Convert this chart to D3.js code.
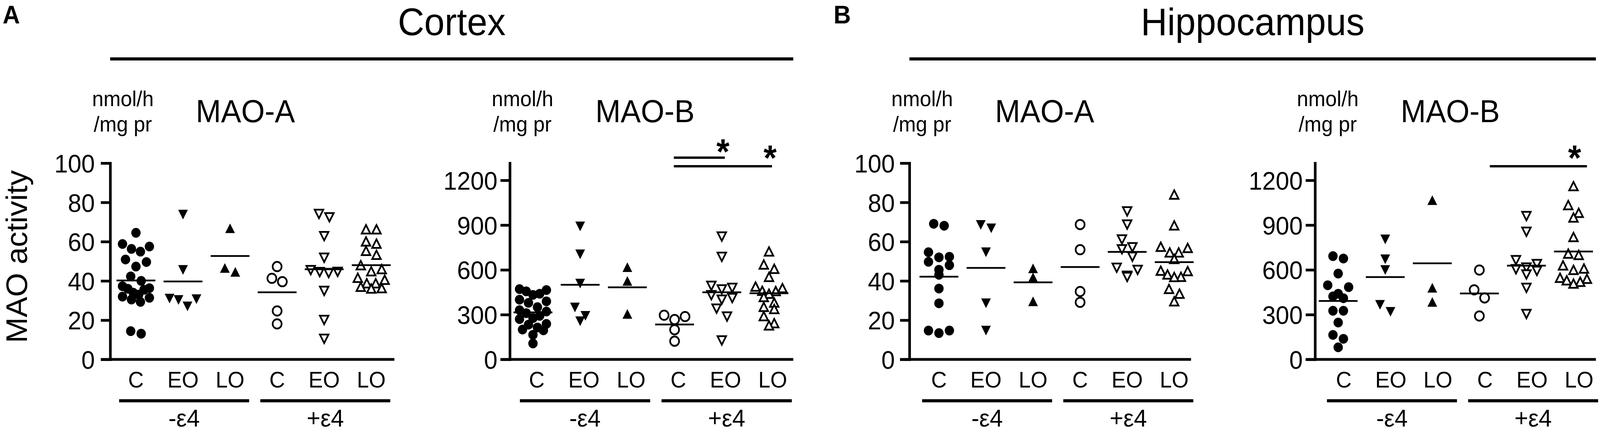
<!DOCTYPE html>
<html lang="en">
<head>
<meta charset="UTF-8">
<title>MAO activity</title>
<script src="https://d3js.org/d3.v7.min.js"></script>
<style>
  html, body { margin: 0; padding: 0; background: #fff; overflow: hidden; }
  #chart { display: block; width: 100vw; height: 100vh; }
  svg text { font-family: "Liberation Sans", Arial, Helvetica, sans-serif; fill: #000; }
</style>
</head>
<body>
<svg id="chart" viewBox="0 0 4284 1107" preserveAspectRatio="none"></svg>
<script>
// x groups: genotype (-e4 / +e4) x diagnosis (C, EO, LO)
const groups = ["-C", "-EO", "-LO", "+C", "+EO", "+LO"];
const groupLabels = ["C", "EO", "LO", "C", "EO", "LO"];
const genotypes = ["-ε4", "+ε4"];
const ticksA = [0, 20, 40, 60, 80, 100];
const ticksB = [0, 300, 600, 900, 1200];

// MAO activity, nmol/h/mg protein, one array per group (same order as groups)
const cortexMaoA = [
  [64.5, 58.8, 57.5, 56.3, 54.9, 50.9, 49.6, 47.3, 42.3, 40.0, 37.3, 36.3, 36.0, 35.5, 34.0, 33.0, 32.0, 31.4, 30.5, 29.3, 14.4, 13.1],
  [73.8, 45.6, 31.0, 30.7, 30.3, 27.0],
  [66.8, 46.6, 44.6],
  [47.3, 41.3, 39.6, 24.7, 18.1],
  [74.1, 72.4, 62.8, 51.8, 45.5, 44.6, 44.5, 44.0, 34.9, 20.1, 10.5],
  [66.3, 66.3, 60.1, 59.0, 55.3, 53.3, 48.0, 46.0, 44.9, 41.6, 40.6, 38.8, 38.8, 37.0, 36.3, 36.1]
];
const cortexMaoB = [
  [471, 465, 456, 440, 432, 400, 389, 379, 350, 330, 321, 310, 292, 277, 270, 238, 233, 214, 200, 195, 165, 107],
  [891, 704, 508, 348, 292, 256],
  [618, 526, 305],
  [296, 287, 267, 199, 122],
  [823, 687, 493, 479, 469, 430, 411, 400, 340, 287, 127],
  [723, 636, 607, 553, 488, 478, 460, 458, 440, 418, 381, 352, 338, 290, 243, 228]
];
const hippoMaoA = [
  [69.1, 68.1, 54.6, 52.3, 52.0, 49.7, 48.0, 45.7, 43.1, 36.1, 28.6, 14.7, 14.7, 13.4],
  [68.5, 66.8, 54.6, 28.6, 14.7],
  [46.4, 41.8, 29.6],
  [68.7, 55.9, 34.6, 29.1],
  [75.4, 68.7, 61.1, 57.1, 56.1, 52.3, 46.7, 45.6, 42.6, 42.0],
  [84.0, 68.3, 57.4, 56.8, 54.5, 54.5, 51.2, 45.2, 45.0, 43.3, 42.1, 42.0, 35.9, 33.5, 29.6]
];
const hippoMaoB = [
  [692, 676, 575, 497, 484, 440, 422, 410, 326, 326, 247, 164, 138, 81],
  [804, 671, 599, 366, 319],
  [1067, 480, 385],
  [599, 466, 412, 291],
  [960, 855, 665, 639, 615, 604, 593, 569, 479, 304],
  [1161, 1034, 982, 951, 820, 709, 700, 630, 609, 600, 547, 540, 530, 520, 508]
];

// significance bars (from, to), lowest first
const cortexSig = [["+C", "+LO"], ["+C", "+EO"]];
const hippoSig = [["+C", "+LO"]];

const panels = [
  {values: cortexMaoA, ticks: ticksA, yMax: 100, name: "MAO-A", axisX: 295, axisRight: 1056, cats: [364, 994], labelDx: 0, tickPad: 16},
  {values: cortexMaoB, ticks: ticksB, yMax: 1315, name: "MAO-B", axisX: 1365, axisRight: 2124, cats: [1427, 2059], labelDx: 10, tickPad: 8, sig: cortexSig, sigPad: [-2, 8]},
  {values: hippoMaoA, ticks: ticksA, yMax: 100, name: "MAO-A", axisX: 2435, axisRight: 3189, cats: [2514, 3144], labelDx: 0, tickPad: 14},
  {values: hippoMaoB, ticks: ticksB, yMax: 1315, name: "MAO-B", axisX: 3521, axisRight: 4273, cats: [3583, 4213], labelDx: 15, tickPad: 8, sig: hippoSig, sigPad: [28, 36]}
];

const regions = [
  {letter: "A", letterX: 7, title: "Cortex", first: 0, last: 1},
  {letter: "B", letterX: 2232, title: "Hippocampus", first: 2, last: 3}
];

const svg = d3.select("#chart");
const yTop = 418, yBottom = 921, tickLen = 25;

// triangles centred on their bounding box, like the plotting program
const triUp = {draw(ctx, size) {
  const w = Math.sqrt(size), h = w * 0.95;
  ctx.moveTo(0, -h / 2); ctx.lineTo(w / 2, h / 2); ctx.lineTo(-w / 2, h / 2); ctx.closePath();
}};
const triDown = {draw(ctx, size) {
  const w = Math.sqrt(size), h = w * 0.95;
  ctx.moveTo(0, h / 2); ctx.lineTo(w / 2, -h / 2); ctx.lineTo(-w / 2, -h / 2); ctx.closePath();
}};
const markers = [
  {type: d3.symbolCircle, size: Math.PI * 12.5 * 12.5, fill: "#000"},
  {type: triDown, size: 26 * 26, fill: "#000"},
  {type: triUp, size: 26 * 26, fill: "#000"},
  {type: d3.symbolCircle, size: Math.PI * 12 * 12, fill: "#fff"},
  {type: triDown, size: 23 * 23, fill: "#fff"},
  {type: triUp, size: 23 * 23, fill: "#fff"}
];

// spread points that would overlap side by side, highest values outermost
function swarm(vals, y) {
  const sorted = vals.slice().sort((a, b) => b - a);
  const out = [];
  let bin = [];
  const flush = () => {
    const k = bin.length;
    const sp = k > 1 ? Math.min(28, 72 / (k - 1)) : 0;
    const offs = d3.range(k).map(i => (i - (k - 1) / 2) * sp)
      .sort((a, b) => Math.abs(b) - Math.abs(a) || a - b);
    bin.forEach((v, i) => out.push({v, dx: offs[i]}));
    bin = [];
  };
  sorted.forEach(v => {
    if (bin.length && Math.abs(y(v) - y(bin[0])) >= 22) flush();
    bin.push(v);
  });
  flush();
  return out;
}

panels.forEach((p, pi) => {
  const x = d3.scalePoint().domain(groups).range(p.cats);
  const y = d3.scaleLinear().domain([0, p.yMax]).range([yBottom, yTop]);
  const g = svg.append("g");

  // y axis
  const ax = g.append("g")
    .attr("transform", `translate(${p.axisX},0)`)
    .call(d3.axisLeft(y).tickValues(p.ticks).tickFormat(d => d)
      .tickSize(tickLen).tickSizeOuter(0).tickPadding(p.tickPad));
  ax.attr("font-family", null).attr("font-size", null);
  ax.select(".domain").attr("stroke-width", 7).attr("stroke-linecap", "square");
  ax.selectAll(".tick line").attr("stroke-width", 7);
  ax.selectAll(".tick text").attr("font-size", 65).attr("dy", "0.36em");

  // x axis line
  g.append("line")
    .attr("x1", p.axisX - tickLen).attr("x2", p.axisRight)
    .attr("y1", y(0)).attr("y2", y(0))
    .attr("stroke", "#000").attr("stroke-width", 7);

  // category labels
  g.selectAll(".cat").data(groups).join("text")
    .attr("x", d => x(d) + p.labelDx).attr("y", 993)
    .attr("text-anchor", "middle").attr("font-size", 58)
    .text((d, i) => groupLabels[i]);

  // genotype brackets
  genotypes.forEach((gt, k) => {
    const x1 = x(groups[k * 3]) + p.labelDx - 45;
    const x2 = x(groups[k * 3 + 2]) + p.labelDx + 51;
    g.append("line").attr("x1", x1).attr("x2", x2).attr("y1", 1027).attr("y2", 1027)
      .attr("stroke", "#000").attr("stroke-width", 8);
    g.append("text").attr("x", (x1 + x2) / 2).attr("y", 1093)
      .attr("text-anchor", "middle").attr("font-size", 63).text(gt);
  });

  // unit and enzyme headings
  const unit = g.append("text").attr("text-anchor", "middle").attr("font-size", 55);
  unit.append("tspan").attr("x", p.axisX + 34).attr("y", 272).text("nmol/h");
  unit.append("tspan").attr("x", p.axisX + 34).attr("y", 337).text("/mg pr");
  g.append("text").attr("x", p.axisX + 362).attr("y", 313)
    .attr("text-anchor", "middle").attr("font-size", 81).text(p.name);

  // points and means
  p.values.forEach((vals, gi) => {
    const m = markers[gi];
    const sym = d3.symbol().type(m.type).size(m.size);
    g.selectAll(null).data(swarm(vals, y)).join("path")
      .attr("d", sym)
      .attr("transform", d => `translate(${x(groups[gi]) + d.dx},${y(d.v)})`)
      .attr("fill", m.fill).attr("stroke", "#000")
      .attr("stroke-width", m.fill === "#000" ? 0 : 4.5);
    const mean = d3.mean(vals);
    g.append("line")
      .attr("x1", x(groups[gi]) - 52).attr("x2", x(groups[gi]) + 52)
      .attr("y1", y(mean)).attr("y2", y(mean))
      .attr("stroke", "#000").attr("stroke-width", 4.5);
  });

  // significance
  (p.sig || []).forEach((s, k) => {
    const ly = 426 - k * 22;
    const x1 = x(s[0]) + p.sigPad[0], x2 = x(s[1]) + p.sigPad[1];
    g.append("line").attr("x1", x1).attr("x2", x2).attr("y1", ly).attr("y2", ly)
      .attr("stroke", "#000").attr("stroke-width", 6);
    g.append("text").attr("x", x(s[1]) + 3).attr("y", ly + 10 + k * 6)
      .attr("text-anchor", "middle").attr("font-size", 90).attr("font-weight", "bold").text("*");
  });

  if (pi === 0) {
    g.append("text")
      .attr("transform", `translate(72,${(yTop + yBottom) / 2 - 12}) rotate(-90)`)
      .attr("text-anchor", "middle").attr("font-size", 79).text("MAO activity");
  }
});

regions.forEach(r => {
  const x1 = panels[r.first].axisX, x2 = panels[r.last].axisRight;
  svg.append("text").attr("x", r.letterX).attr("y", 60)
    .attr("font-size", 64).attr("font-weight", "bold").text(r.letter);
  svg.append("text").attr("x", (x1 + x2) / 2).attr("y", 90)
    .attr("text-anchor", "middle").attr("font-size", 98).text(r.title);
  svg.append("line").attr("x1", x1).attr("x2", x2).attr("y1", 151).attr("y2", 151)
    .attr("stroke", "#000").attr("stroke-width", 8);
});
</script>
</body>
</html>
